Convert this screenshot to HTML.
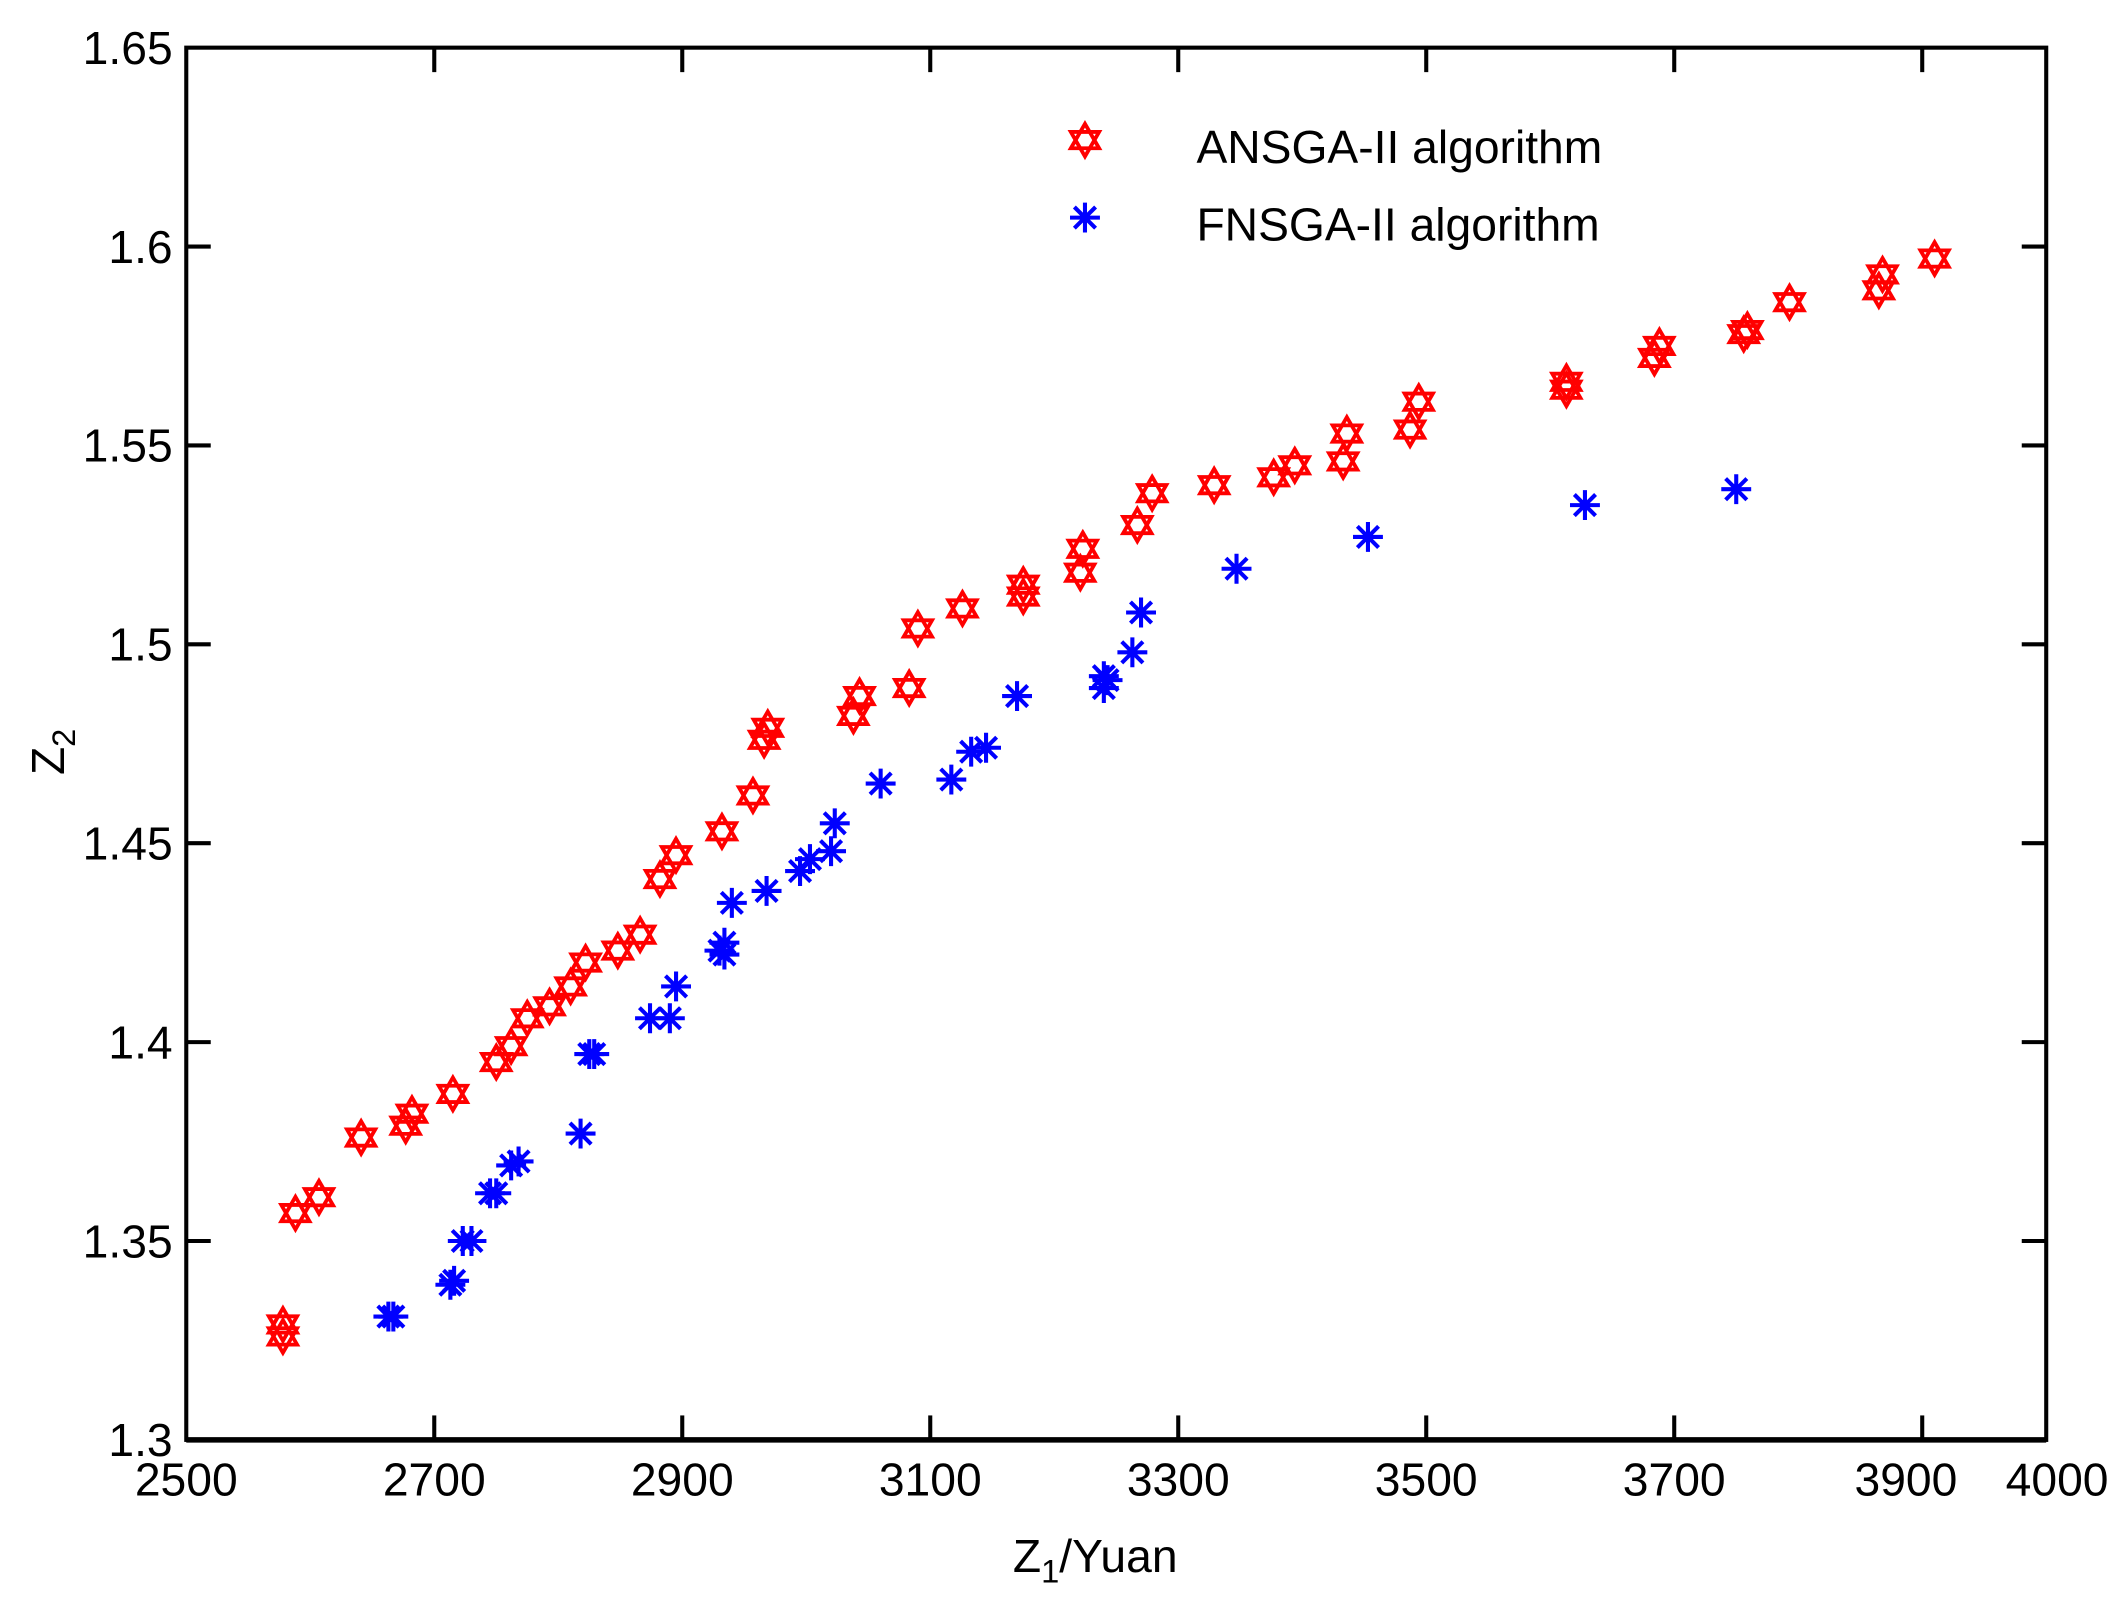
<!DOCTYPE html>
<html><head><meta charset="utf-8"><style>html,body{margin:0;padding:0;background:#fff}svg{display:block}</style></head>
<body>
<svg id="s" width="2121" height="1614" viewBox="0 0 1560 1187" xmlns="http://www.w3.org/2000/svg" font-family="Liberation Sans, Arial, sans-serif">
<rect width="1560" height="1187" fill="#fff"/>
<g id="ticks" stroke="#000" stroke-width="3"></g>
<g id="lab" font-size="34" fill="#000"></g>
<g id="pts"></g>
<rect x="137" y="35" width="1368" height="1024" fill="none" stroke="#000" stroke-width="3"/>
<line x1="137" y1="1059" x2="1505" y2="1059" stroke="#000" stroke-width="4"/>
<text x="0" y="0" font-size="34" transform="translate(47,570) rotate(-90)">Z<tspan font-size="24" dy="8">2</tspan></text>
<text x="745" y="1156" font-size="34">Z<tspan font-size="24" dy="8">1</tspan><tspan dy="-8">/Yuan</tspan></text>
<text x="880" y="120" font-size="34">ANSGA-II algorithm</text>
<text x="880" y="177" font-size="34">FNSGA-II algorithm</text>
</svg>
<script>
const NS="http://www.w3.org/2000/svg";
const X=v=>137+(v-2500)*0.912, Y=v=>35+(1.65-v)*2925.7;
const tk=document.getElementById('ticks'), lb=document.getElementById('lab'), pts=document.getElementById('pts');
function el(p,n,a,t){const e=document.createElementNS(NS,n);for(const k in a)e.setAttribute(k,a[k]);if(t)e.textContent=t;p.appendChild(e);return e;}
[2500,2700,2900,3100,3300,3500,3700,3900,4000].forEach(v=>{const x=X(v);
 if(v>2500&&v<4000){el(tk,'line',{x1:x,y1:1059,x2:x,y2:1041});el(tk,'line',{x1:x,y1:35,x2:x,y2:53});}
 el(lb,'text',{x:v==3900?x-12:(v==4000?x+8:x),y:1100,'text-anchor':'middle'},String(v));});
[1.3,1.35,1.4,1.45,1.5,1.55,1.6,1.65].forEach(v=>{const y=Y(v);
 if(v>1.3&&v<1.65){el(tk,'line',{x1:137,y1:y,x2:155,y2:y});el(tk,'line',{x1:1505,y1:y,x2:1487,y2:y});}
 el(lb,'text',{x:127,y:y+12,'text-anchor':'end'},String(v));});
function hex(x,y){const r=12;let a=[],b=[];for(let i=0;i<3;i++){let t=-Math.PI/2+i*2*Math.PI/3;a.push((x+r*Math.cos(t)).toFixed(1)+','+(y+r*Math.sin(t)).toFixed(1));
 t=Math.PI/2+i*2*Math.PI/3;b.push((x+r*Math.cos(t)).toFixed(1)+','+(y+r*Math.sin(t)).toFixed(1));}
 el(pts,'polygon',{points:a.join(' '),fill:'none',stroke:'#f00','stroke-width':2.8});
 el(pts,'polygon',{points:b.join(' '),fill:'none',stroke:'#f00','stroke-width':2.8});}
function ast(x,y){const r=11,d=7.8;const p=`M${x-r},${y}H${x+r}M${x},${y-r}V${y+r}M${x-d},${y-d}L${x+d},${y+d}M${x-d},${y+d}L${x+d},${y-d}`;
 el(pts,'path',{d:p,stroke:'#00f','stroke-width':3,fill:'none'});}
const R=[[2578,1.329],[2578,1.326],[2588,1.357],[2607,1.361],[2641,1.376],[2677,1.379],[2682,1.382],[2715,1.387],[2750,1.395],[2762,1.399],[2775,1.406],[2793,1.409],[2810,1.414],[2822,1.420],[2848,1.423],[2866,1.427],[2882,1.441],[2895,1.447],[2932,1.453],[2957,1.462],[2966,1.476],[2969,1.479],[3038,1.482],[3043,1.487],[3083,1.489],[3090,1.504],[3126,1.509],[3175,1.512],[3175,1.515],[3221,1.518],[3223,1.524],[3267,1.530],[3279,1.538],[3329,1.540],[3377,1.542],[3394,1.545],[3433,1.546],[3436,1.553],[3487,1.554],[3494,1.561],[3613,1.564],[3613,1.566],[3684,1.572],[3688,1.575],[3756,1.578],[3759,1.579],[3793,1.586],[3865,1.589],[3868,1.593],[3910,1.597]];
const B=[[2663,1.331],[2667,1.331],[2713,1.339],[2716,1.340],[2723,1.350],[2730,1.350],[2745,1.362],[2750,1.362],[2762,1.369],[2768,1.370],[2818,1.377],[2825,1.397],[2829,1.397],[2874,1.406],[2890,1.406],[2895,1.414],[2930,1.423],[2934,1.425],[2934,1.422],[2940,1.435],[2968,1.438],[2995,1.443],[3003,1.446],[3020,1.448],[3023,1.455],[3060,1.465],[3117,1.466],[3133,1.473],[3145,1.474],[3170,1.487],[3240,1.489],[3243,1.491],[3240,1.492],[3263,1.498],[3270,1.508],[3347,1.519],[3453,1.527],[3628,1.535],[3750,1.539]];
R.forEach(p=>hex(X(p[0]),Y(p[1])));B.forEach(p=>ast(X(p[0]),Y(p[1])));
hex(798,103);ast(798,160);
</script>
</body></html>
